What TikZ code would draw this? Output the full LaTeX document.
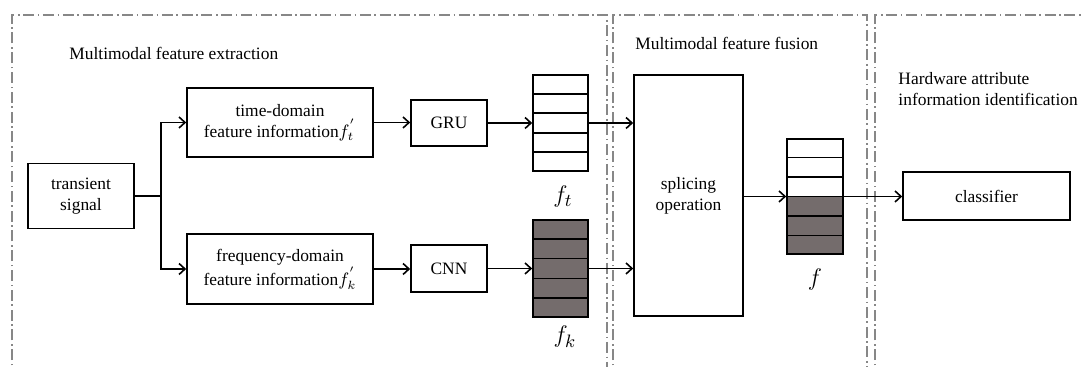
\documentclass[tikz,border=0pt]{standalone}
\usepackage{fontspec}
\setmainfont{Liberation Serif}
\usepackage{xcolor}
\usetikzlibrary{arrows.meta,calc}
\definecolor{cellgray}{RGB}{116,108,108}
\definecolor{zonegray}{RGB}{135,135,135}

\begin{document}
\begin{tikzpicture}[x=0.5pt, y=-0.5pt, line width=0.8pt,
    font=\fontsize{8.7}{10.5}\selectfont,
    box/.style={draw, align=center, inner sep=0pt},
    zone/.style={draw=zonegray, line width=0.8pt, dash pattern=on 5.5pt off 1.8pt on 0.8pt off 1.8pt},
    link/.style={-{Straight Barb[length=3pt,width=5.5pt]}},
    vec/.style={draw, inner sep=0pt, minimum width=27.5pt},
    veclab/.style={font=\fontsize{12.5}{14}\selectfont}]
    \useasboundingbox (0,0) rectangle (1082,367);
    % the three zones
    \draw[zone] (12,380) -- (12,15) -- (607,15) -- (607,380);
    \draw[zone] (613,380) -- (613,15) -- (867,15) -- (867,380);
    \draw[zone] (875,380) -- (875,15) -- (1100,15);
    \node[anchor=west] (t1) at (62,53) {Multimodal feature extraction};
    \node[anchor=west] (t2) at (628,43) {Multimodal feature fusion};
    \node[anchor=west, align=left] (t3) at (891,89) {Hardware attribute\\information identification};

    \node[box, minimum width=53pt, minimum height=32.5pt] (sig) at (81,196) {transient\\signal};
    \node[box, minimum width=93pt, minimum height=34.5pt] (td) at (280,122.5) {time-domain\\feature information$f^{'}_{t}$};
    \node[box, minimum width=93pt, minimum height=35pt] (fd) at (280,269) {frequency-domain\\feature information$f^{'}_{k}$};
    \node[box, minimum width=38pt, minimum height=23pt] (gru) at (449,123) {GRU};
    \node[box, minimum width=38pt, minimum height=23.5pt] (cnn) at (449,268.5) {CNN};
    \node[vec, minimum height=48pt] (ft) at (560.5,123) {};
    \node[vec, fill=cellgray, minimum height=48.5pt] (fk) at (560.5,268.5) {};
    \node[box, minimum width=54.5pt, minimum height=120.5pt] (splice) at (688.5,195.5) {splicing\\operation};
    \node[vec, minimum width=28pt, minimum height=57.5pt,
        path picture={\fill[cellgray] (path picture bounding box.west) rectangle (path picture bounding box.south east);}] (fv) at (815,196.5) {};
    \node[box, minimum width=83.5pt, minimum height=24pt] (cls) at (986.5,196) {classifier};

    % cells of the vectors
    \foreach \v in {ft,fk}
        \foreach \k in {1,2,3,4}
            \draw ($(\v.north west)!\k/5!(\v.south west)$) -- ($(\v.north east)!\k/5!(\v.south east)$);
    \foreach \k in {1,...,5}
        \draw ($(fv.north west)!\k/6!(fv.south west)$) -- ($(fv.north east)!\k/6!(fv.south east)$);

    \node[veclab] (ftlab) at (563,197) {$f_t$};
    \node[veclab] (fklab) at (565,337) {$f_k$};
    \node[veclab] (fvlab) at (815,280) {$f$};

    \draw[link] (sig.east) -- ++(26,0) |- (td.west);
    \draw[link] (sig.east) -- ++(26,0) |- (fd.west);
    \draw[link] (td.east) -- (td.east -| gru.west);
    \draw[link] (fd.east) -- (fd.east -| cnn.west);
    \draw[link] (gru) -- (ft);
    \draw[link] (cnn) -- (fk);
    \draw[link] (ft.east) -- (ft.east -| splice.west);
    \draw[link] (fk.east) -- (fk.east -| splice.west);
    \draw[link] (splice.east |- fv) -- (fv.west);
    \draw[link] (fv.east) -- (fv.east -| cls.west);
\end{tikzpicture}
\end{document}
